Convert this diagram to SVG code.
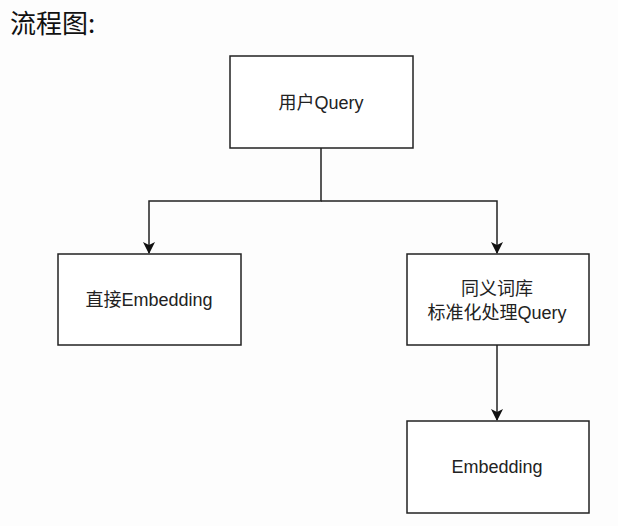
<svg xmlns="http://www.w3.org/2000/svg" width="618" height="526" viewBox="0 0 618 526">
<style>
.box{fill:#fff;stroke:#222;stroke-width:1.5}
.lbl{font-family:"Liberation Sans","Noto Sans CJK SC",sans-serif;font-size:18px;fill:#222;text-anchor:middle}
.edge{fill:none;stroke:#222;stroke-width:1.5}
</style>
<defs>
<marker id="arr" markerWidth="12" markerHeight="12" refX="11" refY="6" orient="auto" markerUnits="userSpaceOnUse">
<path d="M0,0 L12,6 L0,12 L3,6 Z" fill="#111"/>
</marker>
</defs>
<rect width="618" height="526" fill="#fdfdfd"/>
<text x="10" y="33" font-family="'Noto Sans CJK SC',sans-serif" font-size="26" fill="#111">流程图:</text>
<g id="connectors">
<path class="edge" d="M321,148 V201 H149 V253" marker-end="url(#arr)"/>
<path class="edge" d="M321,201 H497 V253" marker-end="url(#arr)"/>
<path class="edge" d="M497,345 V420" marker-end="url(#arr)"/>
</g>
<g id="n_query">
<rect class="box" x="230" y="56" width="183" height="92"/>
<text class="lbl" x="321" y="109">用户Query</text>
</g>
<g id="n_direct">
<rect class="box" x="58" y="254" width="183" height="91"/>
<text class="lbl" x="149" y="306">直接Embedding</text>
</g>
<g id="n_synonym">
<rect class="box" x="407" y="254" width="182" height="91"/>
<text class="lbl" x="497" y="295">同义词库</text>
<text class="lbl" x="497" y="319">标准化处理Query</text>
</g>
<g id="n_embed">
<rect class="box" x="407" y="421" width="182" height="92"/>
<text class="lbl" x="497" y="473">Embedding</text>
</g>
</svg>
